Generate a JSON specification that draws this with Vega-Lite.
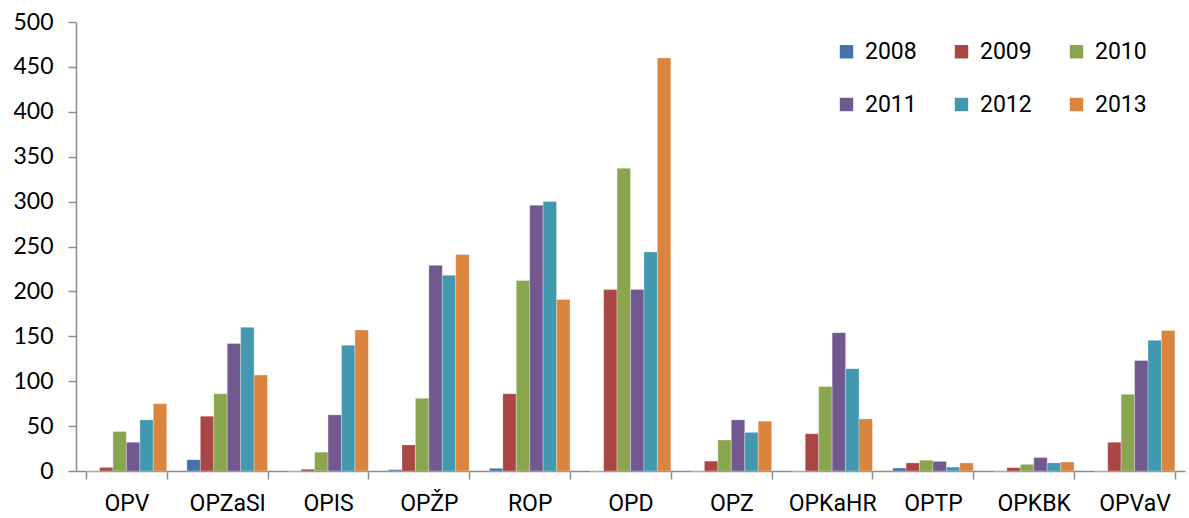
{
  "$schema": "https://vega.github.io/schema/vega-lite/v6.json",
  "width": 1189,
  "height": 518,
  "autosize": {"type": "fit", "contains": "padding"},
  "padding": {"left": 12, "top": 11, "right": 4, "bottom": 3},
  "background": "white",
  "config": {
    "view": {"stroke": null},
    "axis": {"grid": false, "domainColor": "#8c8c8c", "tickColor": "#8c8c8c", "domainWidth": 1.5, "tickWidth": 1.5, "labelColor": "black"}
  },
  "data": {
    "values": [
      {"program": "OPV", "year": "2008", "value": 0},
      {"program": "OPV", "year": "2009", "value": 4},
      {"program": "OPV", "year": "2010", "value": 44},
      {"program": "OPV", "year": "2011", "value": 32},
      {"program": "OPV", "year": "2012", "value": 57},
      {"program": "OPV", "year": "2013", "value": 75},
      {"program": "OPZaSI", "year": "2008", "value": 12.6},
      {"program": "OPZaSI", "year": "2009", "value": 61},
      {"program": "OPZaSI", "year": "2010", "value": 86},
      {"program": "OPZaSI", "year": "2011", "value": 142},
      {"program": "OPZaSI", "year": "2012", "value": 160},
      {"program": "OPZaSI", "year": "2013", "value": 107},
      {"program": "OPIS", "year": "2008", "value": 0},
      {"program": "OPIS", "year": "2009", "value": 2},
      {"program": "OPIS", "year": "2010", "value": 21},
      {"program": "OPIS", "year": "2011", "value": 62.5},
      {"program": "OPIS", "year": "2012", "value": 140},
      {"program": "OPIS", "year": "2013", "value": 157},
      {"program": "OPŽP", "year": "2008", "value": 1.5},
      {"program": "OPŽP", "year": "2009", "value": 29},
      {"program": "OPŽP", "year": "2010", "value": 81},
      {"program": "OPŽP", "year": "2011", "value": 229},
      {"program": "OPŽP", "year": "2012", "value": 218},
      {"program": "OPŽP", "year": "2013", "value": 241},
      {"program": "ROP", "year": "2008", "value": 3},
      {"program": "ROP", "year": "2009", "value": 86},
      {"program": "ROP", "year": "2010", "value": 212},
      {"program": "ROP", "year": "2011", "value": 296},
      {"program": "ROP", "year": "2012", "value": 300},
      {"program": "ROP", "year": "2013", "value": 191},
      {"program": "OPD", "year": "2008", "value": 0},
      {"program": "OPD", "year": "2009", "value": 202},
      {"program": "OPD", "year": "2010", "value": 337},
      {"program": "OPD", "year": "2011", "value": 202},
      {"program": "OPD", "year": "2012", "value": 244},
      {"program": "OPD", "year": "2013", "value": 460},
      {"program": "OPZ", "year": "2008", "value": 0},
      {"program": "OPZ", "year": "2009", "value": 11},
      {"program": "OPZ", "year": "2010", "value": 34.5},
      {"program": "OPZ", "year": "2011", "value": 57},
      {"program": "OPZ", "year": "2012", "value": 43},
      {"program": "OPZ", "year": "2013", "value": 55.5},
      {"program": "OPKaHR", "year": "2008", "value": 0},
      {"program": "OPKaHR", "year": "2009", "value": 41.5},
      {"program": "OPKaHR", "year": "2010", "value": 94},
      {"program": "OPKaHR", "year": "2011", "value": 154},
      {"program": "OPKaHR", "year": "2012", "value": 114},
      {"program": "OPKaHR", "year": "2013", "value": 58},
      {"program": "OPTP", "year": "2008", "value": 3.3},
      {"program": "OPTP", "year": "2009", "value": 9},
      {"program": "OPTP", "year": "2010", "value": 12},
      {"program": "OPTP", "year": "2011", "value": 10.7},
      {"program": "OPTP", "year": "2012", "value": 4.4},
      {"program": "OPTP", "year": "2013", "value": 9},
      {"program": "OPKBK", "year": "2008", "value": 0},
      {"program": "OPKBK", "year": "2009", "value": 3.7},
      {"program": "OPKBK", "year": "2010", "value": 7.4},
      {"program": "OPKBK", "year": "2011", "value": 15},
      {"program": "OPKBK", "year": "2012", "value": 9},
      {"program": "OPKBK", "year": "2013", "value": 10},
      {"program": "OPVaV", "year": "2008", "value": 0},
      {"program": "OPVaV", "year": "2009", "value": 32},
      {"program": "OPVaV", "year": "2010", "value": 85.5},
      {"program": "OPVaV", "year": "2011", "value": 123},
      {"program": "OPVaV", "year": "2012", "value": 145.5},
      {"program": "OPVaV", "year": "2013", "value": 156.5}
    ]
  },
  "mark": {"type": "bar", "stroke": "white", "strokeWidth": 0.5, "strokeOpacity": 0.6},
  "encoding": {
    "x": {
      "field": "program",
      "type": "nominal",
      "sort": ["OPV", "OPZaSI", "OPIS", "OPŽP", "ROP", "OPD", "OPZ", "OPKaHR", "OPTP", "OPKBK", "OPVaV"],
      "scale": {"paddingInner": 0.2, "paddingOuter": 0.1},
      "axis": {"title": null, "labelAngle": 0, "tickBand": "extent", "labelFont": "Roboto", "labelFontSize": 23, "tickSize": 8, "labelPadding": 13}
    },
    "xOffset": {"field": "year", "type": "nominal"},
    "y": {
      "field": "value",
      "type": "quantitative",
      "scale": {"domain": [0, 500], "nice": false},
      "axis": {"title": null, "values": [0, 50, 100, 150, 200, 250, 300, 350, 400, 450, 500], "labelFont": "Lato", "labelFontSize": 23, "tickSize": 8, "labelPadding": 15}
    },
    "color": {
      "field": "year",
      "type": "nominal",
      "scale": {"domain": ["2008", "2009", "2010", "2011", "2012", "2013"], "range": ["#4572A7", "#AA4643", "#89A54E", "#71588F", "#4198AF", "#DB843D"]},
      "legend": {
        "title": null,
        "orient": "none",
        "direction": "horizontal",
        "legendX": 759,
        "legendY": 18,
        "columns": 3,
        "columnPadding": 33,
        "rowPadding": 29,
        "symbolType": "square",
        "symbolSize": 180,
        "symbolStrokeWidth": 0,
        "labelFont": "Roboto",
        "labelFontSize": 23,
        "labelColor": "black",
        "labelOffset": 7
      }
    }
  }
}
